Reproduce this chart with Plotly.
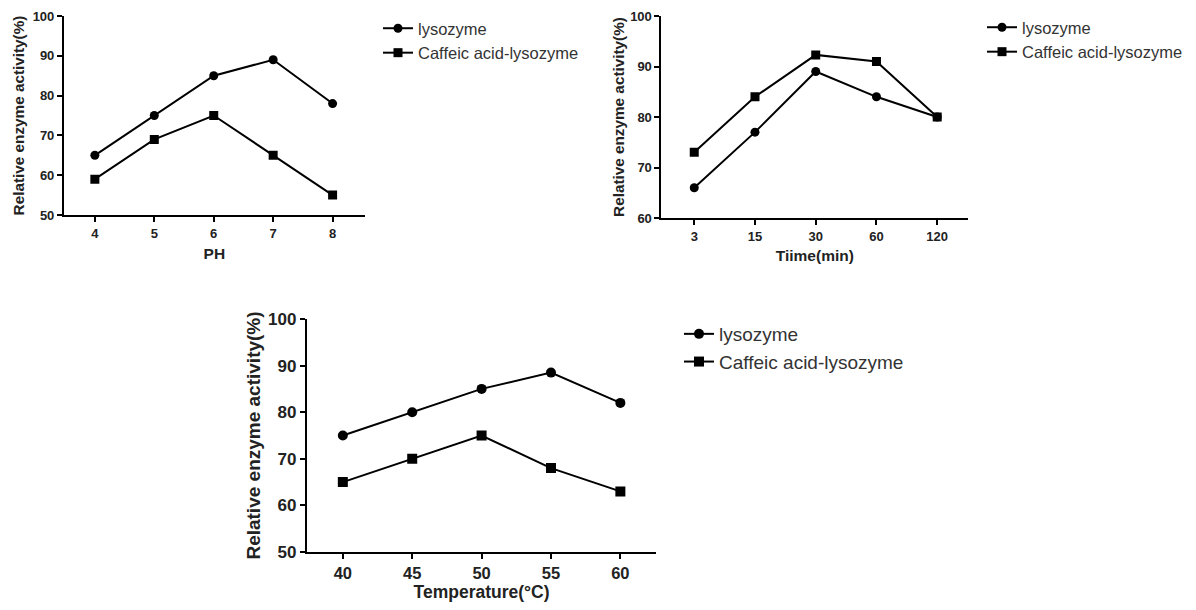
import plotly.graph_objects as go

# Panel 1: pH
ph_labels = ["4", "5", "6", "7", "8"]
ph_lysozyme = [65, 75, 85, 89, 78]
ph_caffeic = [59, 69, 75, 65, 55]

# Panel 2: Time
time_labels = ["3", "15", "30", "60", "120"]
time_lysozyme = [66, 77, 89, 84, 80]
time_caffeic = [73, 84, 92.3, 91, 80]

# Panel 3: Temperature
temp_labels = ["40", "45", "50", "55", "60"]
temp_lysozyme = [75, 80, 85, 88.5, 82]
temp_caffeic = [65, 70, 75, 68, 63]

series_names = ["lysozyme", "Caffeic acid-lysozyme"]

# The page body has an 8px margin, so the figure is drawn 8px in from the window edge.
OFF = 8
W, H = 1196 - 2 * OFF, 610 - 2 * OFF
FONT = "Liberation Sans, Arial, sans-serif"

fig = go.Figure()

def add_pair(xlab, ly, cy, xa, ya, legend, msize):
    fig.add_trace(go.Scatter(
        x=xlab, y=ly, name=series_names[0], mode="lines+markers",
        line=dict(color="black", width=2),
        marker=dict(symbol="circle", size=msize, color="black"),
        xaxis=xa, yaxis=ya, legend=legend))
    fig.add_trace(go.Scatter(
        x=xlab, y=cy, name=series_names[1], mode="lines+markers",
        line=dict(color="black", width=2),
        marker=dict(symbol="square", size=msize, color="black"),
        xaxis=xa, yaxis=ya, legend=legend))

add_pair(ph_labels, ph_lysozyme, ph_caffeic, "x", "y", "legend", 9)
add_pair(time_labels, time_lysozyme, time_caffeic, "x2", "y2", "legend2", 9)
add_pair(temp_labels, temp_lysozyme, temp_caffeic, "x3", "y3", "legend3", 10)

def xd(a, b):
    return [(a - OFF) / W, (b - OFF) / W]

def yd(top, bottom):
    return [1 - (bottom - OFF) / H, 1 - (top - OFF) / H]

def lx(px):
    return (px - OFF) / W

def ly_(py):
    return 1 - (py - OFF) / H

def xaxis(domain, rng, title, anchor, fs, tfs, standoff):
    return dict(domain=domain, range=rng, type="category", anchor=anchor,
                automargin=False,
                showline=True, linecolor="black", linewidth=2, mirror=False,
                ticks="outside", ticklen=5, tickwidth=2, tickcolor="black",
                showgrid=False, zeroline=False,
                tickfont=dict(family=FONT, size=tfs, color="#222", weight="bold"),
                title=dict(text=title, font=dict(family=FONT, size=fs, color="#222", weight="bold"),
                           standoff=standoff))

def yaxis(domain, rng, title, anchor, fs, tfs, standoff):
    return dict(domain=domain, range=rng, anchor=anchor, dtick=10,
                automargin=False,
                showline=True, linecolor="black", linewidth=2, mirror=False,
                ticks="outside", ticklen=5, tickwidth=2, tickcolor="black",
                showgrid=False, zeroline=False,
                tickfont=dict(family=FONT, size=tfs, color="#222", weight="bold"),
                title=dict(text=title, font=dict(family=FONT, size=fs, color="#222", weight="bold"),
                           standoff=standoff))

ytitle = "Relative enzyme activity(%)"

fig.update_layout(
    width=W, height=H,
    margin=dict(l=0, r=0, t=0, b=0),
    paper_bgcolor="white", plot_bgcolor="white",
    showlegend=True,
    xaxis=xaxis(xd(64, 365), [-0.52, 4.54], "PH", "y", 15.5, 13, 9),
    yaxis=yaxis(yd(16, 215), [50, 100], ytitle, "x", 15.3, 13, 4),
    xaxis2=xaxis(xd(662, 969), [-0.54, 4.51], "Tiime(min)", "y2", 15.5, 13, 8),
    yaxis2=yaxis(yd(16, 218), [60, 100], ytitle, "x2", 15.3, 13, 2),
    xaxis3=xaxis(xd(307, 657), [-0.52, 4.52], "Temperature(°C)", "y3", 17.5, 16.5, 6),
    yaxis3=yaxis(yd(319, 552), [50, 100], ytitle, "x3", 19, 17, 2),
    legend=dict(x=lx(378), y=ly_(11), xanchor="left", yanchor="top",
                font=dict(family=FONT, size=16.5, color="#333"),
                bgcolor="rgba(0,0,0,0)", tracegroupgap=0, itemwidth=30),
    legend2=dict(x=lx(983), y=ly_(10), xanchor="left", yanchor="top",
                 font=dict(family=FONT, size=16.5, color="#333"),
                 bgcolor="rgba(0,0,0,0)", tracegroupgap=0, itemwidth=30),
    legend3=dict(x=lx(679), y=ly_(315), xanchor="left", yanchor="top",
                 font=dict(family=FONT, size=19, color="#333"),
                 bgcolor="rgba(0,0,0,0)", tracegroupgap=0, itemwidth=30),
)

fig.write_html("out.html")
